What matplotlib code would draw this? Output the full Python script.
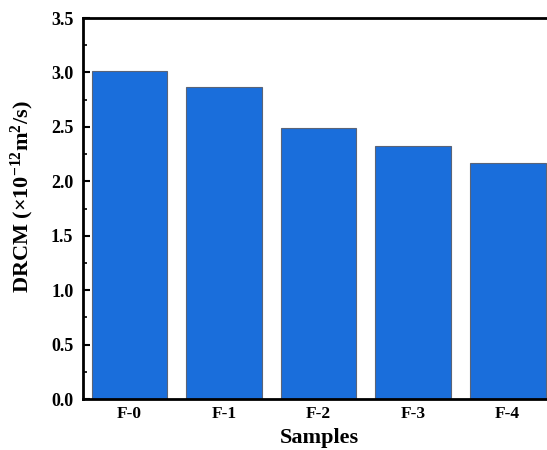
import matplotlib
matplotlib.use("Agg")
import matplotlib.pyplot as plt
from matplotlib.ticker import MultipleLocator

plt.rcParams['font.family'] = ['Liberation Serif', 'DejaVu Serif']
plt.rcParams['font.weight'] = 'bold'
plt.rcParams['mathtext.fontset'] = 'custom'
plt.rcParams['mathtext.rm'] = 'Liberation Serif:bold'
plt.rcParams['mathtext.it'] = 'Liberation Serif:italic:bold'
plt.rcParams['mathtext.bf'] = 'Liberation Serif:bold'
plt.rcParams['mathtext.default'] = 'rm'

samples = ['F-0', 'F-1', 'F-2', 'F-3', 'F-4']
drcm = [3.01, 2.87, 2.49, 2.32, 2.17]
yticks = [0.0, 0.5, 1.0, 1.5, 2.0, 2.5, 3.0, 3.5]

fig = plt.figure(figsize=(5.47, 4.5), dpi=100)
ax = fig.add_axes([83/547, 1-399/450, 472/547, (399-18)/450])

x = list(range(len(samples)))
ax.bar(x, drcm, width=0.8, color='#1a6edb', edgecolor='#5a6478', linewidth=0.8)

ax.set_xlim(-0.49, 4.5)
ax.set_ylim(0, 3.5)
ax.set_yticks(yticks)
ax.set_yticklabels([f'{v:.1f}' for v in yticks])
ax.yaxis.set_minor_locator(MultipleLocator(0.25))
ax.set_xticks(x)
ax.set_xticklabels(samples)

ax.tick_params(axis='y', which='major', direction='in', length=5, width=1.5, labelsize=13, pad=7)
ax.tick_params(axis='y', which='minor', direction='in', length=3, width=1.2)
ax.tick_params(axis='x', which='major', length=0, labelsize=12.5, pad=5)

for s in ['left', 'bottom', 'top', 'right']:
    ax.spines[s].set_linewidth(2)

ax.set_xlabel('Samples', fontsize=16, fontweight='bold', labelpad=4)
ax.set_ylabel(r'DRCM (×10$^{-12}$m$^{2}$/s)', fontsize=16, fontweight='bold')
ax.yaxis.set_label_coords(-0.1, 0.53)

fig.savefig('out.png', dpi=100)
